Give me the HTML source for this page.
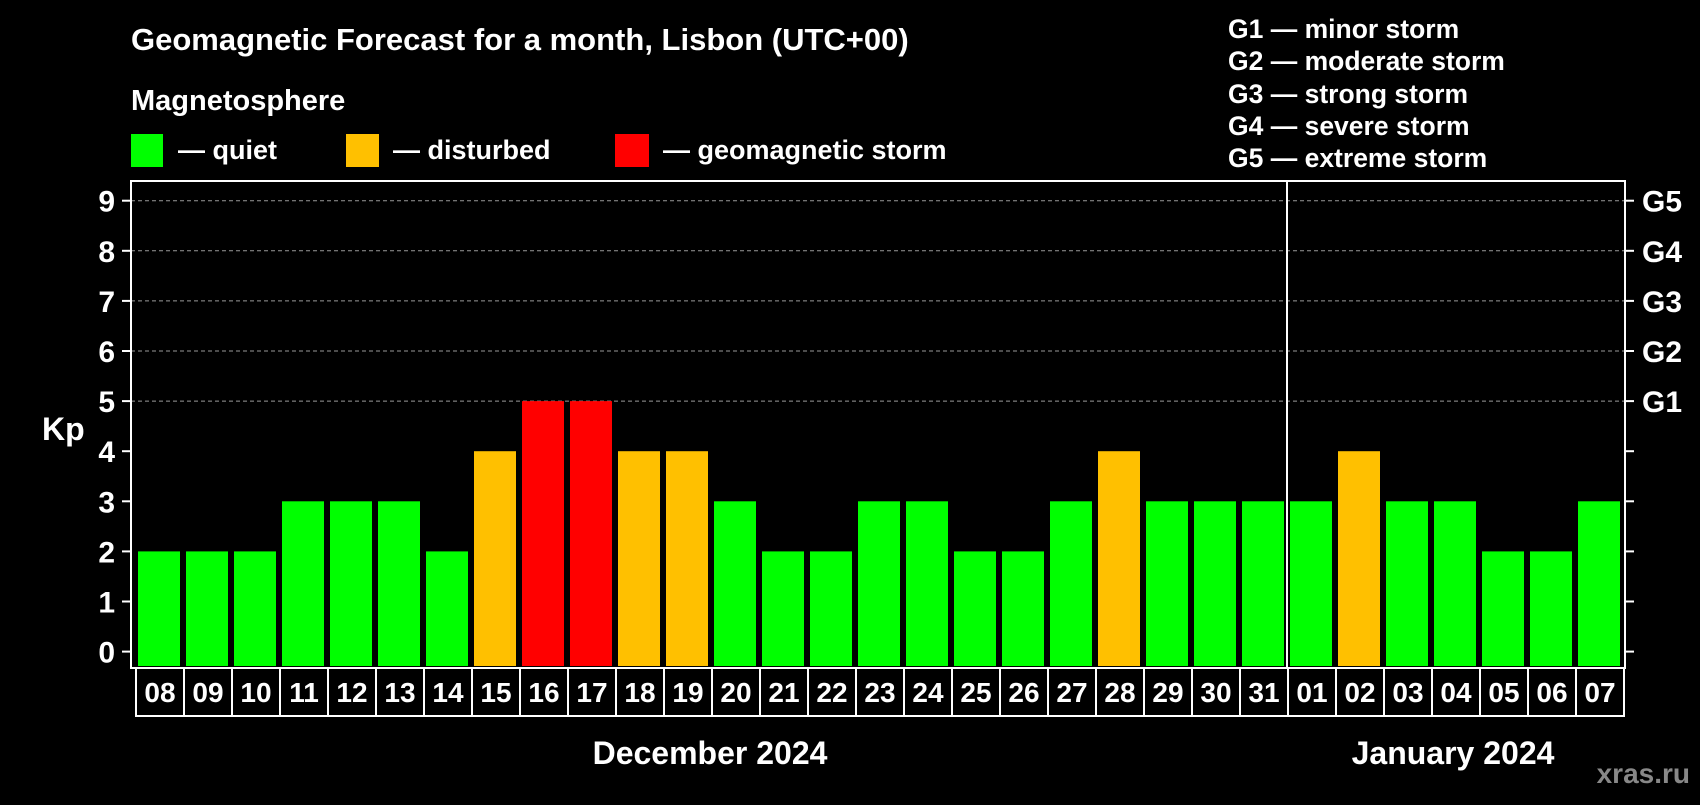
<!DOCTYPE html>
<html><head><meta charset="utf-8"><style>
body{margin:0;background:#000;width:1700px;height:800px;overflow:hidden;font-family:"Liberation Sans",Arial,sans-serif;font-weight:bold;color:#fff}
svg text{font-family:"Liberation Sans",Arial,sans-serif;font-weight:bold;fill:#fff}
</style></head><body>
<svg id="chart" width="1700" height="800" xmlns="http://www.w3.org/2000/svg">
<text x="131" y="50" font-size="31">Geomagnetic Forecast for a month, Lisbon (UTC+00)</text>
<text x="131" y="110" font-size="29">Magnetosphere</text>
<rect x="131" y="134" width="32" height="33" fill="#00ff00"/>
<text x="178" y="159" font-size="27">— quiet</text>
<rect x="346" y="134" width="33" height="33" fill="#ffc000"/>
<text x="393" y="159" font-size="27">— disturbed</text>
<rect x="615" y="134" width="34" height="33" fill="#ff0000"/>
<text x="663" y="159" font-size="27">— geomagnetic storm</text>
<g font-size="26.5">
<text x="1228" y="38">G1 — minor storm</text>
<text x="1228" y="70">G2 — moderate storm</text>
<text x="1228" y="103">G3 — strong storm</text>
<text x="1228" y="135">G4 — severe storm</text>
<text x="1228" y="167">G5 — extreme storm</text>
</g>
<text x="42" y="440" font-size="32">Kp</text>
<g id="grid"></g>
<g id="bars"></g>
<rect x="131" y="181" width="1494" height="487" fill="none" stroke="#fff" stroke-width="2"/>
<line x1="1287" y1="181" x2="1287" y2="668" stroke="#fff" stroke-width="2"/>
<g id="axes"></g>
<g id="dates"></g>
<text x="710" y="764" font-size="32" text-anchor="middle">December 2024</text>
<text x="1453" y="764" font-size="32" text-anchor="middle">January 2024</text>
<text x="1690" y="783" font-size="28" text-anchor="end" style="fill:#888">xras.ru</text>
</svg>
<script>
const days=["08","09","10","11","12","13","14","15","16","17","18","19","20","21","22","23","24","25","26","27","28","29","30","31","01","02","03","04","05","06","07"];
const kp=[2,2,2,3,3,3,2,4,5,5,4,4,3,2,2,3,3,2,2,3,4,3,3,3,3,4,3,3,2,2,3];
const yTicks=[0,1,2,3,4,5,6,7,8,9];
const gLabels=["G1","G2","G3","G4","G5"];
const NS="http://www.w3.org/2000/svg";
const y=v=>651.6-v*50.1;
const x0=i=>135+i*48;
function mk(t,a,p){const e=document.createElementNS(NS,t);for(const k in a)e.setAttribute(k,a[k]);p.appendChild(e);return e;}
const grid=document.getElementById('grid'),bars=document.getElementById('bars'),axes=document.getElementById('axes'),dates=document.getElementById('dates');
yTicks.forEach(v=>{
 if(v>=5){const l=mk('line',{x1:131,x2:1625,y1:y(v),y2:y(v),stroke:'#999','stroke-dasharray':'4,3','stroke-width':1},grid);
 
 }
 const t1=mk('line',{x1:122,x2:131,y1:y(v),y2:y(v),stroke:'#fff','stroke-width':2},axes);
 
 
 const t2=mk('line',{x1:1625,x2:1634,y1:y(v),y2:y(v),stroke:'#fff','stroke-width':2},axes);
 
 
 const lb=mk('text',{x:115,y:y(v)+11,'font-size':30,'text-anchor':'end'},axes);lb.textContent=v;
 
 
 if(v>=5){const g=mk('text',{x:1642,y:y(v)+11,'font-size':30},axes);g.textContent=gLabels[v-5];
 
 }
});
kp.forEach((v,i)=>{
 const c=v>=5?'#ff0000':(v>=4?'#ffc000':'#00ff00');
 const r=mk('rect',{x:x0(i)+3,y:y(v),width:42,height:666-y(v),fill:c},bars);
 
 
 const b=mk('rect',{x:x0(i)+1,y:668,width:48,height:48,fill:'none',stroke:'#fff','stroke-width':2},dates);
 
 
 const t=mk('text',{x:x0(i)+25,y:702,'font-size':28,'text-anchor':'middle'},dates);t.textContent=days[i];
 
 
});
</script>
</body></html>
